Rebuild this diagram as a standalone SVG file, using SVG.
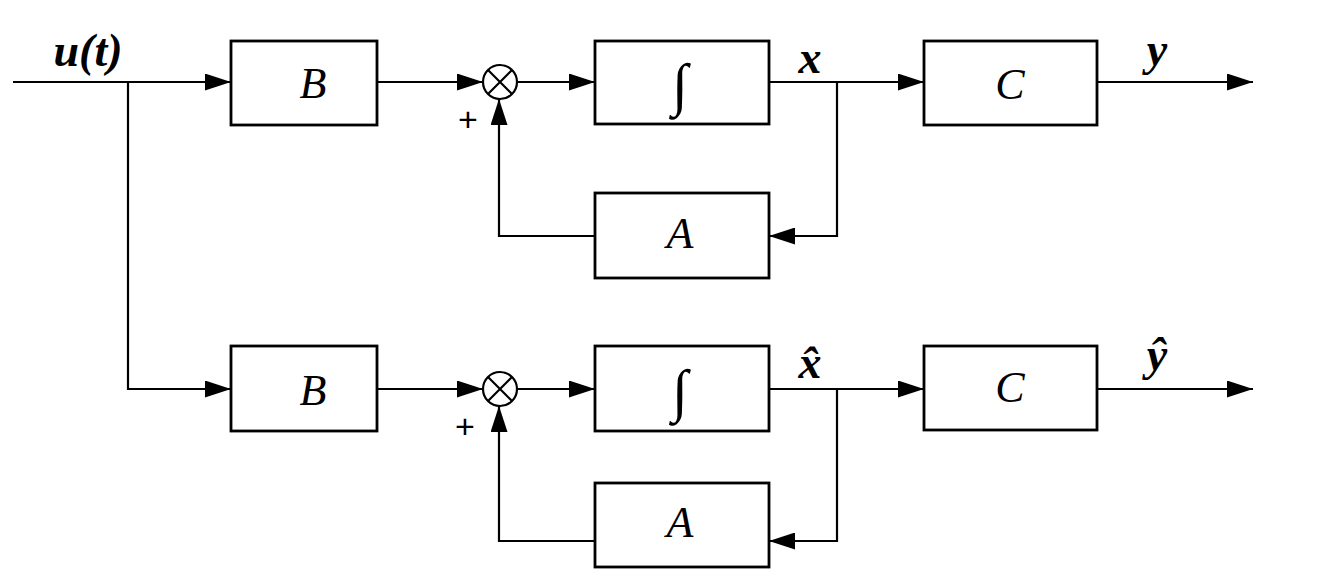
<svg xmlns="http://www.w3.org/2000/svg" width="1328" height="586" viewBox="0 0 1328 586">
<style>
.box{fill:#fff;stroke:#000;stroke-width:2.8}
.ln{fill:none;stroke:#000;stroke-width:2.2}
.lbl{font-family:"Liberation Serif",serif;font-style:italic;font-size:44px;fill:#000;text-anchor:middle}
.sig{font-family:"Liberation Serif",serif;font-style:italic;font-weight:bold;font-size:46px;fill:#000;text-anchor:middle}
.pl{font-family:"Liberation Sans",sans-serif;font-size:34px;fill:#000;text-anchor:middle}
.int{font-family:"Liberation Serif",serif;font-size:58px;fill:#000;text-anchor:middle}
</style>
<defs>
<marker id="ah" markerUnits="userSpaceOnUse" markerWidth="26" markerHeight="17" refX="26" refY="8.5" orient="auto">
<path d="M0,0 L26,8.5 L0,17 Z" fill="#000"/>
</marker>
</defs>
<rect width="1328" height="586" fill="#fff"/>
<g id="connectors">
<path class="ln" d="M13,82 H231" marker-end="url(#ah)"/>
<path class="ln" d="M377,82 H483" marker-end="url(#ah)"/>
<path class="ln" d="M517,82 H595" marker-end="url(#ah)"/>
<path class="ln" d="M769,82 H924" marker-end="url(#ah)"/>
<path class="ln" d="M1097,82 H1253" marker-end="url(#ah)"/>
<path class="ln" d="M837,82 V236 H769" marker-end="url(#ah)"/>
<path class="ln" d="M595,236 H499 V99" marker-end="url(#ah)"/>
<path class="ln" d="M128,82 V389 H231" marker-end="url(#ah)"/>
<path class="ln" d="M377,389 H483" marker-end="url(#ah)"/>
<path class="ln" d="M517,389 H595" marker-end="url(#ah)"/>
<path class="ln" d="M769,389 H924" marker-end="url(#ah)"/>
<path class="ln" d="M1097,389 H1253" marker-end="url(#ah)"/>
<path class="ln" d="M837,389 V541 H769" marker-end="url(#ah)"/>
<path class="ln" d="M595,541 H499 V406" marker-end="url(#ah)"/>
</g>
<g id="B1"><rect class="box" x="231" y="41" width="146" height="84"/><text class="lbl" x="313" y="98">B</text></g>
<g id="sum1"><circle cx="500" cy="82" r="17" fill="#fff" stroke="#000" stroke-width="2.2"/><path class="ln" d="M488,70 L512,94 M512,70 L488,94"/><text class="pl" x="468" y="131">+</text></g>
<g id="int1"><rect class="box" x="595" y="41" width="174" height="83"/><text class="int" x="680" y="104">∫</text></g>
<g id="C1"><rect class="box" x="924" y="41" width="173" height="84"/><text class="lbl" x="1010" y="99">C</text></g>
<g id="A1"><rect class="box" x="595" y="193" width="174" height="85"/><text class="lbl" x="680" y="248">A</text></g>
<g id="B2"><rect class="box" x="231" y="346" width="146" height="85"/><text class="lbl" x="313" y="405">B</text></g>
<g id="sum2"><circle cx="500" cy="389" r="17" fill="#fff" stroke="#000" stroke-width="2.2"/><path class="ln" d="M488,377 L512,401 M512,377 L488,401"/><text class="pl" x="465" y="438">+</text></g>
<g id="int2"><rect class="box" x="595" y="346" width="174" height="85"/><text class="int" x="680" y="410">∫</text></g>
<g id="C2"><rect class="box" x="924" y="346" width="173" height="84"/><text class="lbl" x="1010" y="402">C</text></g>
<g id="A2"><rect class="box" x="595" y="483" width="174" height="84"/><text class="lbl" x="680" y="537">A</text></g>
<g id="labels">
<text class="sig" x="88" y="66">u(t)</text>
<text class="sig" x="810" y="73">x</text>
<text class="sig" x="1157" y="65">y</text>
<text class="sig" x="810" y="378">x̂</text>
<text class="sig" x="1157" y="370">ŷ</text>
</g>
</svg>
